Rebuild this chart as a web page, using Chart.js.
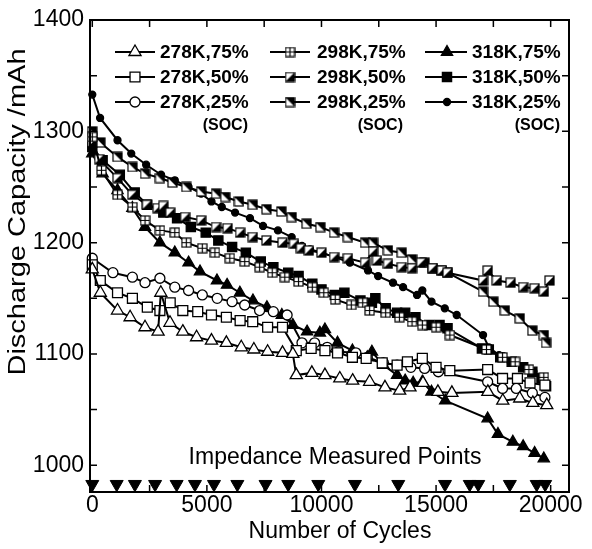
<!DOCTYPE html>
<html><head><meta charset="utf-8">
<script src="https://cdn.jsdelivr.net/npm/chart.js@4.4.1/dist/chart.umd.min.js"></script>
<style>html,body{margin:0;padding:0;background:#fff;}canvas{display:block;}</style>
</head><body>
<canvas id="c" width="592" height="549"></canvas>
<script>
// ---------- DATA ----------
const seriesLabels = ['278K,75%','278K,50%','278K,25%','298K,75%','298K,50%','298K,25%','318K,75%','318K,50%','318K,25%'];

const s278_75_x = [0,350,1100,1650,2300,2870,2990,3390,3950,4550,5200,5850,6500,7050,7650,8300,8750,8900,9580,10150,10800,11360,12100,12770,13410,13860,14430,15080,15690,17260,17910,18650,19220,19830];
const s278_75_y = [1176,1155,1139,1133,1124,1120,1155,1128,1120,1115,1112,1110,1106,1104,1102,1101,1100,1081,1083,1081,1078,1076,1075,1070,1067,1070,1074,1066,1065,1066,1058,1060,1056,1054];

const s278_50_x = [0,350,1100,1750,2400,2950,3400,3950,4600,5200,5850,6450,7000,7650,8300,8900,9550,10150,10700,11350,11950,12650,13300,13750,14400,15000,15600,17250,17900,18550,19100,19750];
const s278_50_y = [1180,1166,1155,1150,1142,1139,1146,1139,1138,1135,1133,1130,1129,1124,1124,1103,1105,1103,1101,1097,1096,1092,1090,1093,1096,1088,1085,1086,1078,1078,1074,1072];

const s278_25_x = [0,900,1750,2300,2950,3600,4200,4800,5450,6100,6650,7300,7900,8500,9150,9700,10250,10750,11500,12000,12700,13300,13900,14500,15100,17250,17900,18500,19200,19750];
const s278_25_y = [1186,1173,1169,1164,1168,1160,1157,1153,1150,1147,1144,1139,1138,1135,1110,1110,1106,1102,1101,1097,1092,1090,1088,1087,1084,1075,1069,1069,1065,1061];

const s298_75_x = [0,400,1100,1750,2300,2950,3600,4100,4800,5350,6000,6650,7300,7850,8400,9000,9600,10100,10600,11300,11800,12100,12800,13400,13950,14400,15000,15600,17200,17900,18450,19050,19700];
const s298_75_y = [1295,1265,1243,1232,1220,1211,1209,1200,1195,1191,1186,1183,1178,1173,1169,1165,1160,1155,1149,1144,1146,1139,1137,1133,1129,1126,1124,1117,1104,1097,1093,1086,1079];

const s298_50_x = [0,300,1100,1750,2380,2850,3100,3400,4050,4750,5400,5900,6450,7000,7600,8300,8800,9100,9450,10000,10550,11150,11900,12250,12420,12900,13500,13950,14350,14850,15250,15500,17050,17250,17650,18250,18800,19300,19700,19950];
const s298_50_y = [1290,1275,1258,1243,1234,1231,1233,1227,1223,1220,1214,1213,1209,1205,1202,1200,1199,1195,1193,1191,1187,1186,1182,1192,1184,1181,1178,1177,1182,1177,1175,1173,1166,1175,1166,1164,1160,1159,1156,1166];

const s298_25_x = [0,350,1100,1750,2300,2950,3500,4100,4750,5400,5800,6400,7000,7600,8250,8700,9350,9950,10550,11150,11900,12250,12900,13500,13950,14500,14850,15250,15500,17050,17500,18000,18650,19200,19700,19800];
const s298_25_y = [1300,1290,1277,1268,1262,1258,1254,1250,1246,1244,1241,1237,1234,1230,1228,1223,1217,1214,1209,1205,1200,1200,1193,1191,1185,1182,1177,1175,1173,1156,1147,1139,1132,1121,1117,1110];

const s318_75_x = [0,450,1100,1750,2300,2950,3600,4200,4700,5440,5880,6440,7010,7620,8270,8750,9370,9930,10150,10700,11350,12000,12200,12700,13300,13650,14000,14400,14800,15400,17250,17700,18350,18800,19300,19700];
const s318_75_y = [1280,1262,1247,1231,1214,1200,1191,1182,1174,1166,1162,1155,1148,1142,1135,1126,1120,1119,1122,1110,1103,1097,1102,1090,1081,1076,1074,1075,1066,1058,1042,1028,1021,1017,1011,1006];

const s318_50_x = [0,450,1200,1850,2400,3100,3700,4300,4950,5500,6100,6700,7350,7900,8550,9000,9600,10000,10580,11000,11700,12200,12350,12800,13300,13650,14100,14700,15150,15500,17000,17300,17800,18300,18800,19200,19600,19800];
const s318_50_y = [1286,1274,1261,1245,1234,1227,1222,1214,1209,1202,1196,1191,1183,1178,1173,1170,1163,1158,1153,1155,1148,1146,1150,1141,1137,1137,1133,1126,1126,1123,1105,1104,1097,1093,1088,1084,1078,1071];

const s318_25_x = [0,340,1100,1700,2350,3000,3600,4200,4750,5200,5650,6230,6880,7450,8100,8700,9150,9500,10000,10580,11240,12030,12470,13120,13560,14170,14400,14800,15380,15900,17050,17300,17750,18250,18800,19250,19700];
const s318_25_y = [1333,1312,1292,1280,1270,1261,1256,1250,1244,1237,1232,1227,1222,1215,1211,1205,1197,1194,1191,1187,1182,1175,1170,1164,1160,1153,1157,1147,1141,1135,1117,1106,1099,1093,1088,1084,1076];

const impedanceCycles = [0,1065,1860,2740,3680,4480,5310,6330,7560,8550,9860,11460,13350,15390,16470,16840,18220,19390,19760];

const xTickLabels = [0,5000,10000,15000,20000];
const xMinorTicks = [2500,7500,12500,17500];
const yTickLabels = [1000,1100,1200,1300,1400];
const yMinorTicks = [1050,1150,1250,1350];
const xRange = [-100, 20800];
const yRange = [976, 1400];

const xTitle = 'Number of Cycles';
const yTitle = 'Discharge Capacity /mAh';
const noteText = 'Impedance Measured Points';
const socText = '(SOC)';

// ---------- marker images ----------
function mk(draw){const c=document.createElement('canvas');c.width=11;c.height=11;const g=c.getContext('2d');draw(g);return c;}
const crossSq = mk(g=>{g.fillStyle='#fff';g.fillRect(1,1,9,9);g.strokeStyle='#000';g.lineWidth=1.2;g.strokeRect(1,1,9,9);g.beginPath();g.moveTo(5.5,1);g.lineTo(5.5,10);g.moveTo(1,5.5);g.lineTo(10,5.5);g.stroke();});
const half50 = mk(g=>{g.fillStyle='#fff';g.fillRect(1,1,9,9);g.fillStyle='#000';g.beginPath();g.moveTo(1,10);g.lineTo(10,10);g.lineTo(10,1);g.closePath();g.fill();g.strokeStyle='#000';g.lineWidth=1.2;g.strokeRect(1,1,9,9);});
const half25 = mk(g=>{g.fillStyle='#fff';g.fillRect(1,1,9,9);g.fillStyle='#000';g.beginPath();g.moveTo(1,1);g.lineTo(10,1);g.lineTo(10,10);g.closePath();g.fill();g.strokeStyle='#000';g.lineWidth=1.2;g.strokeRect(1,1,9,9);});

const pts = (xs, ys) => xs.map((x,i)=>({x, y: ys[i]}));
const styles = [
  {ps:'triangle', r:7, bg:'#fff'},
  {ps:'rect', r:7, bg:'#fff'},
  {ps:'circle', r:5, bg:'#fff'},
  {ps:crossSq, r:5, bg:'#fff'},
  {ps:half50, r:5, bg:'#fff'},
  {ps:half25, r:5, bg:'#fff'},
  {ps:'triangle', r:6.5, bg:'#000'},
  {ps:'rect', r:6.5, bg:'#000'},
  {ps:'circle', r:3.5, bg:'#000'}
];
const seriesData = [
  pts(s278_75_x,s278_75_y), pts(s278_50_x,s278_50_y), pts(s278_25_x,s278_25_y),
  pts(s298_75_x,s298_75_y), pts(s298_50_x,s298_50_y), pts(s298_25_x,s298_25_y),
  pts(s318_75_x,s318_75_y), pts(s318_50_x,s318_50_y), pts(s318_25_x,s318_25_y)
];
const FONT = "'Liberation Sans', Arial, sans-serif";
Chart.defaults.font.family = FONT;

const datasets = seriesData.map((d,i)=>({
  label: seriesLabels[i], data: d, showLine: true, borderColor:'#000', borderWidth:2,
  pointStyle: styles[i].ps, pointRadius: styles[i].r, pointBackgroundColor: styles[i].bg,
  pointBorderColor:'#000', pointBorderWidth:1.3, tension:0, clip:false
}));
datasets.push({
  label:'impedance', data: impedanceCycles.map(c=>({x:c, y: yRange[0]+7})), showLine:false,
  pointStyle:'triangle', rotation:180, pointRadius:7.5, pointBackgroundColor:'#000', pointBorderColor:'#000', pointBorderWidth:1, clip:false
});

const deco = {
  id:'deco',
  afterDraw(chart){
    const {ctx, chartArea:{left,right,top,bottom}, scales:{x,y}} = chart;
    ctx.save();
    ctx.strokeStyle='#000'; ctx.lineWidth=2;
    ctx.strokeRect(left, top, right-left, bottom-top);
    ctx.lineWidth=1.5;
    ctx.beginPath();
    [...xTickLabels, ...xMinorTicks].forEach(v=>{const p=x.getPixelForValue(v);ctx.moveTo(p,bottom);ctx.lineTo(p,bottom-7);ctx.moveTo(p,top);ctx.lineTo(p,top+7);});
    [...yTickLabels, ...yMinorTicks].forEach(v=>{const p=y.getPixelForValue(v);ctx.moveTo(left,p);ctx.lineTo(left+7,p);ctx.moveTo(right,p);ctx.lineTo(right-7,p);});
    ctx.stroke();
    // legend
    const cols=[[115,155,135,160,248],[270,310,290,317,403],[425,467,447,472,560]];
    const rows=[52,77,102];
    seriesLabels.forEach((lab,i)=>{
      const c=cols[Math.floor(i/3)], yy=rows[i%3];
      ctx.strokeStyle='#000'; ctx.lineWidth=2;
      ctx.beginPath(); ctx.moveTo(c[0],yy); ctx.lineTo(c[1],yy); ctx.stroke();
      ctx.fillStyle=styles[i].bg; ctx.strokeStyle='#000'; ctx.lineWidth=1.3;
      Chart.helpers.drawPoint(ctx,{pointStyle:styles[i].ps,radius:styles[i].r,rotation:0,borderWidth:1.3},c[2],yy);
      ctx.fillStyle='#000'; ctx.font='bold 19px '+FONT; ctx.textAlign='left'; ctx.textBaseline='middle';
      ctx.fillText(lab,c[3],yy+1);
    });
    ctx.font='bold 16px '+FONT; ctx.textAlign='right';
    cols.forEach(c=>ctx.fillText(socText,c[4],126));
    // note
    ctx.font='23px '+FONT; ctx.textAlign='center'; ctx.textBaseline='alphabetic';
    ctx.fillText(noteText,335,464);
    // x title
    ctx.textBaseline='middle';
    ctx.fillText(xTitle,340,532);
    // y title
    ctx.save();
    ctx.translate(19,212); ctx.rotate(-Math.PI/2);
    const w=ctx.measureText(yTitle).width;
    ctx.scale(327/w,1);
    ctx.fillText(yTitle,0,0);
    ctx.restore();
    ctx.restore();
  }
};

new Chart(document.getElementById('c'), {
  type:'scatter',
  data:{datasets},
  options:{
    responsive:false, animation:false, devicePixelRatio:1,
    layout:{padding:{top:20,right:23,left:0,bottom:0}},
    plugins:{legend:{display:false}, tooltip:{enabled:false}},
    scales:{
      x:{type:'linear', min:xRange[0], max:xRange[1],
        afterBuildTicks:s=>{s.ticks=xTickLabels.map(v=>({value:v}));},
        afterFit:s=>{s.height=57;},
        grid:{display:false, drawTicks:false}, border:{display:false},
        ticks:{color:'#000', font:{size:23}, padding:0, maxRotation:0, autoSkip:false, callback:v=>String(v)}},
      y:{type:'linear', min:yRange[0], max:yRange[1],
        afterBuildTicks:s=>{s.ticks=yTickLabels.map(v=>({value:v}));},
        afterFit:s=>{s.width=90;},
        grid:{display:false, drawTicks:false}, border:{display:false},
        ticks:{color:'#000', font:{size:23}, padding:6, callback:v=>String(v)}}
    }
  },
  plugins:[deco]
});
</script>
</body></html>
